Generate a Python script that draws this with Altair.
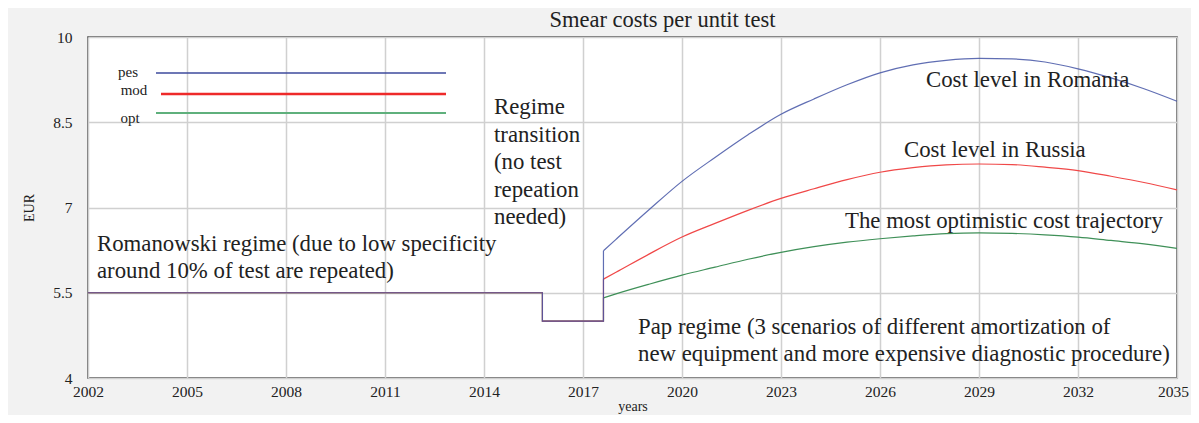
import altair as alt
import pandas as pd

# ---------------- data ----------------
series_names = ["pes", "mod", "opt"]
series_colors = ["#4455a6", "#f04848", "#3f9058"]
legend_colors = ["#3c4a9c", "#ee2a2a", "#5fb07c"]
legend_widths = [1.3, 2.6, 2.0]

# Romanowski regime + regime transition (shared by all scenarios)
common_years = [2002, 2015.77, 2015.77, 2017.62]
common_values = [5.5, 5.5, 5.0, 5.0]

# Pap regime scenarios
pap_years = [2017.62, 2018, 2019, 2020, 2021, 2022, 2023, 2024, 2025, 2026,
             2027, 2028, 2029, 2030, 2031, 2032, 2033, 2034, 2035]
pes_values = [6.24, 6.44, 6.96, 7.46, 7.88, 8.28, 8.64, 8.91, 9.16, 9.37,
              9.51, 9.59, 9.625, 9.615, 9.56, 9.44, 9.28, 9.09, 8.87]
mod_values = [5.74, 5.86, 6.18, 6.48, 6.72, 6.95, 7.16, 7.33, 7.49, 7.62,
              7.70, 7.75, 7.765, 7.755, 7.71, 7.65, 7.55, 7.44, 7.31]
opt_values = [5.41, 5.48, 5.65, 5.81, 5.95, 6.09, 6.21, 6.31, 6.39, 6.45,
              6.50, 6.54, 6.555, 6.545, 6.52, 6.48, 6.42, 6.36, 6.28]

x_ticks = [2002, 2005, 2008, 2011, 2014, 2017, 2020, 2023, 2026, 2029, 2032, 2035]
y_ticks = [4, 5.5, 7, 8.5, 10]

title_text = "Smear costs per untit test"
x_title = "years"
y_title = "EUR"

ann_transition = ["Regime", "transition", "(no test", "repeation", "needed)"]
ann_romanowski = ["Romanowski regime (due to low specificity",
                  "around 10% of test are repeated)"]
ann_pap = ["Pap regime (3 scenarios  of different amortization of",
           "new equipment and more expensive diagnostic procedure)"]
ann_romania = ["Cost level  in Romania"]
ann_russia = ["Cost level in Russia"]
ann_optimistic = ["The most optimistic cost trajectory"]

# ---------------- build tables ----------------
step_rows, curve_rows = [], []
for name, vals in zip(series_names, [pes_values, mod_values, opt_values]):
    ys = common_years + pap_years[:1]
    vs = common_values + vals[:1]
    for i, (yr, v) in enumerate(zip(ys, vs)):
        step_rows.append({"series": name, "year": yr, "cost": v, "order": i})
    for i, (yr, v) in enumerate(zip(pap_years, vals)):
        curve_rows.append({"series": name, "year": yr, "cost": v, "order": i})
step_df = pd.DataFrame(step_rows)
curve_df = pd.DataFrame(curve_rows)

FONT = "Liberation Serif"
TXT = "#222222"

x_enc = alt.X("year:Q",
              scale=alt.Scale(domain=[2002, 2035], nice=False, zero=False),
              axis=alt.Axis(values=x_ticks, format="d", title=x_title,
                            labelFont=FONT, labelFontSize=15.5, labelColor=TXT,
                            labelPadding=6, ticks=False, domain=False,
                            grid=True, gridColor="#d0d0d0", gridWidth=1.5,
                            labelFlush=False,
                            labelOffset={"condition": {"test": "datum.value == 2035", "value": -4},
                                         "value": 0},
                            titleFont=FONT, titleFontSize=14, titleFontWeight="normal",
                            titleColor=TXT, titlePadding=0))
y_enc = alt.Y("cost:Q",
              scale=alt.Scale(domain=[4, 10], nice=False, zero=False),
              axis=alt.Axis(values=y_ticks, format=".1~f", title=y_title,
                            labelFont=FONT, labelFontSize=15.5, labelColor=TXT,
                            labelPadding=16, ticks=False, domain=False,
                            grid=True, gridColor="#d0d0d0", gridWidth=1.5,
                            titleFont=FONT, titleFontSize=14, titleFontWeight="normal",
                            titleColor=TXT, titlePadding=16))

layers = []
for name, col in reversed(list(zip(series_names, series_colors))):
    op = 0.85 if name == "pes" else 1
    layers.append(
        alt.Chart(step_df).transform_filter(alt.datum.series == name)
        .mark_line(color=col, strokeWidth=1.2, opacity=op)
        .encode(x=x_enc, y=y_enc, order="order:Q")
    )
    layers.append(
        alt.Chart(curve_df).transform_filter(alt.datum.series == name)
        .mark_line(color=col, strokeWidth=1.2, opacity=op, interpolate="monotone")
        .encode(x=x_enc, y=y_enc, order="order:Q")
    )

one = pd.DataFrame({"k": [0]})

def text_layer(lines, px, py, align="left", size=22.8, lh=27.5):
    return alt.Chart(one).mark_text(
        text=lines, align=align, baseline="alphabetic", font=FONT,
        fontSize=size, lineHeight=lh, color=TXT
    ).encode(x=alt.value(px), y=alt.value(py))

layers += [
    text_layer(ann_transition, 406, 77),
    text_layer(ann_romanowski, 9, 214, lh=27),
    text_layer(ann_pap, 550, 297, lh=27),
    text_layer(ann_romania, 838, 50),
    text_layer(ann_russia, 816, 120),
    text_layer(ann_optimistic, 757, 191),
]

# legend drawn inside the plot (top-left)
legend_pos = [(68, 36, 40), (73, 57, 46), (68, 76, 42)]
label_y = [35, 53, 81]
for name, col, w, (x0, yl, lx), ly in zip(series_names, legend_colors, legend_widths,
                                            legend_pos, label_y):
    layers.append(alt.Chart(one).mark_rule(color=col, strokeWidth=w)
                  .encode(x=alt.value(x0), x2=alt.value(358), y=alt.value(yl)))
    layers.append(alt.Chart(one).mark_text(text=name, align="center", baseline="middle",
                                           font=FONT, fontSize=15, color=TXT)
                  .encode(x=alt.value(lx), y=alt.value(ly)))

chart = alt.layer(*layers).properties(
    width=1089, height=341,
    autosize=alt.AutoSizeParams(type="none"),
    padding={"left": 80, "top": 29, "right": 14, "bottom": 37},
    background="#f2f2f2",
    title=alt.TitleParams(text=title_text, font=FONT, fontSize=22.5, fontWeight="normal",
                          color=TXT, dx=30, offset=-1, anchor="middle"),
).configure_view(stroke="#444444", strokeWidth=1.5, fill="white")

chart.save("out.html", embed_options={"renderer": "svg", "actions": False})
